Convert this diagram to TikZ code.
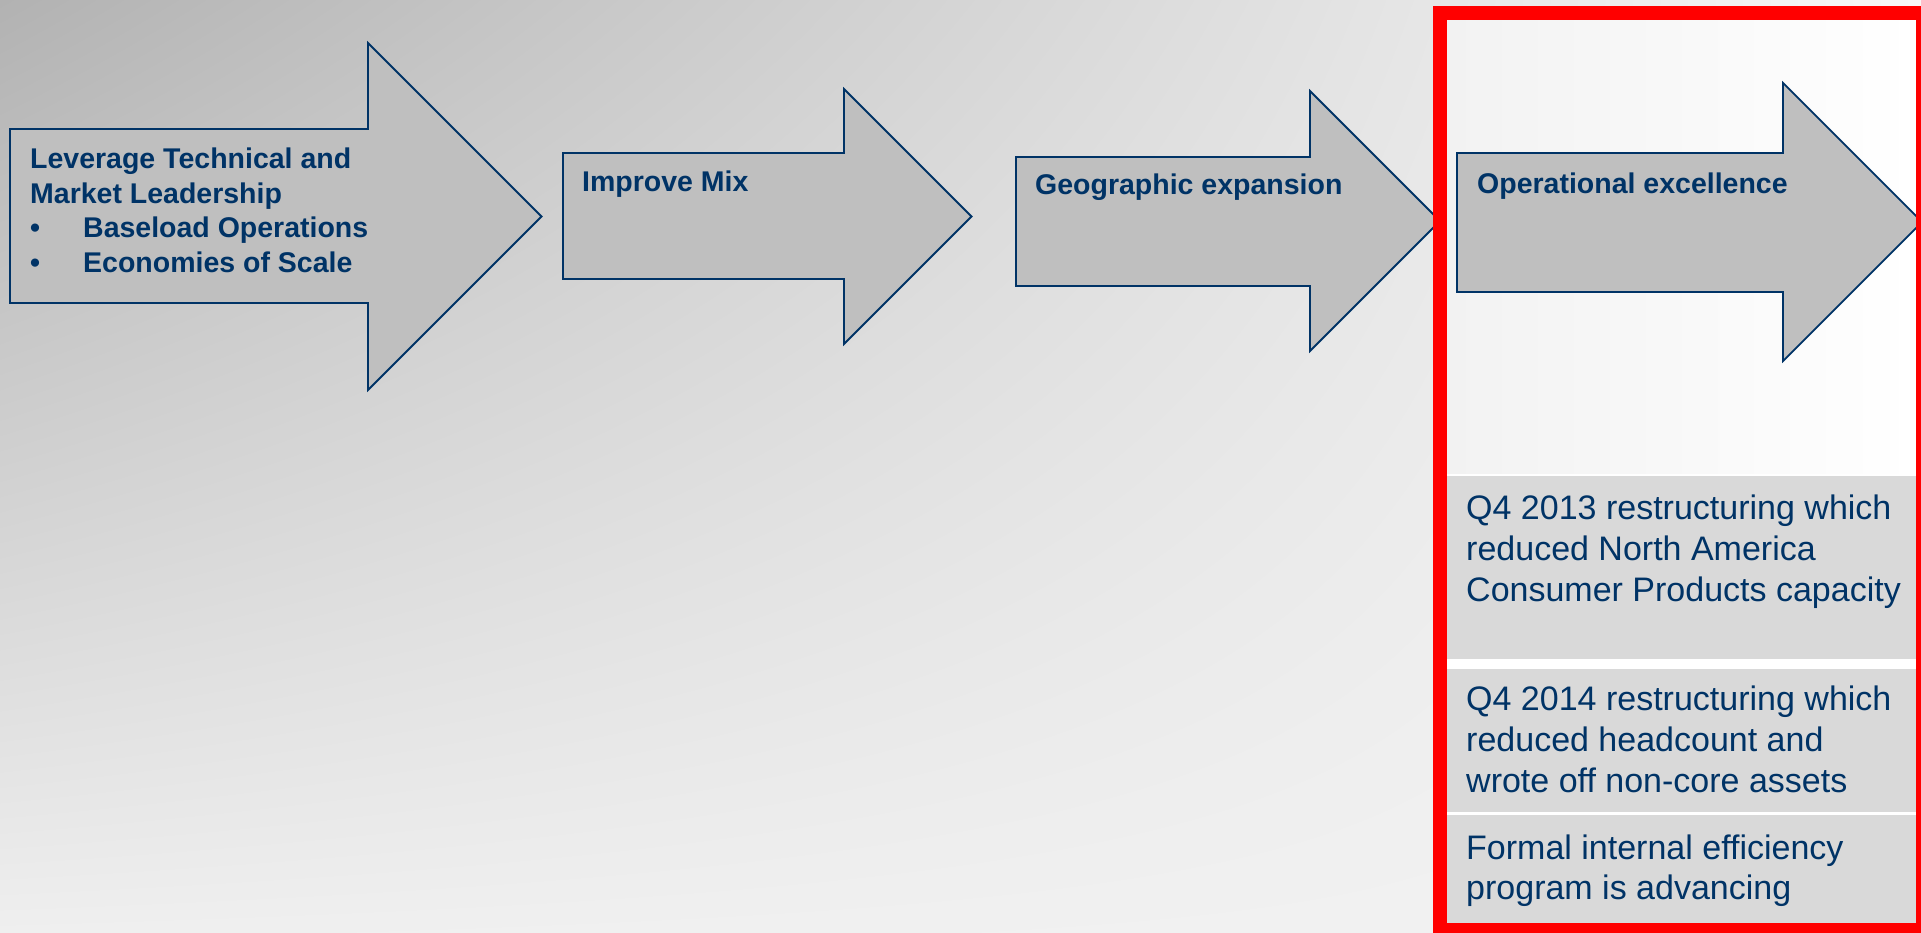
\documentclass[tikz,border=0pt]{standalone}
\usepackage{fontspec}
\setmainfont{Liberation Sans}
\usetikzlibrary{shadings}
\definecolor{txtblue}{RGB}{0,51,102}
\definecolor{arrowgray}{RGB}{191,191,191}
\definecolor{boxgray}{RGB}{217,217,217}
\definecolor{bgA}{RGB}{178,178,178}
\definecolor{bgB}{RGB}{248,248,248}
\definecolor{bgC}{RGB}{239,239,239}
\definecolor{bgD}{RGB}{242,242,242}
\definecolor{panelA}{RGB}{242,242,242}
\definecolor{redline}{RGB}{255,0,0}
\begin{document}
\begin{tikzpicture}[x=1pt,y=-1pt,
  arrowshape/.style={draw=txtblue, line width=1.8pt, fill=arrowgray, line join=miter},
  ttl/.style={anchor=base west, inner sep=0pt, text=txtblue, font=\fontsize{28.5}{34}\selectfont\bfseries},
  bodytxt/.style={anchor=base west, inner sep=0pt, text=txtblue, font=\fontsize{34}{41}\selectfont}]
\useasboundingbox (0,0) rectangle (1921,933);
\clip (0,0) rectangle (1921,933);
% background
\shade[upper left=bgA, upper right=bgB, lower left=bgC, lower right=bgD] (0,0) rectangle (1921,933);
% arrows 1-3
\draw[arrowshape] (10,129) -- (368,129) -- (368,43) -- (541.5,216.5) -- (368,390) -- (368,303) -- (10,303) -- cycle;
\draw[arrowshape] (563,153) -- (844,153) -- (844,89) -- (971.5,216.5) -- (844,344) -- (844,279) -- (563,279) -- cycle;
\draw[arrowshape] (1016,157) -- (1310,157) -- (1310,91) -- (1440,221) -- (1310,351) -- (1310,286) -- (1016,286) -- cycle;
% panel interior
\fill[white] (1447,20) rectangle (1916,923);
\shade[left color=panelA, right color=white] (1447,20) rectangle (1916,473);
% arrow 4
\draw[arrowshape] (1457,153) -- (1783,153) -- (1783,83) -- (1922,222) -- (1783,361) -- (1783,292) -- (1457,292) -- cycle;
% grey boxes
\fill[boxgray] (1447,476) rectangle (1916,659);
\fill[boxgray] (1447,669) rectangle (1916,812);
\fill[boxgray] (1447,815) rectangle (1916,923);
% arrow texts
\node[ttl] (t1a) at (30,169) {Leverage Technical and};
\node[ttl] (t1b) at (30,203.5) {Market Leadership};
\node[ttl] (bu1) at (30,238) {•};
\node[ttl] (t1c) at (83,238) {Baseload Operations};
\node[ttl] (bu2) at (30,272.5) {•};
\node[ttl] (t1d) at (83,272.5) {Economies of Scale};
\node[ttl] (t2) at (582,192) {Improve Mix};
\node[ttl] (t3) at (1035,195) {Geographic expansion};
\node[ttl] (t4) at (1477,193.5) {Operational excellence};
% box texts
\node[bodytxt] (p1a) at (1466,519) {Q4 2013 restructuring which};
\node[bodytxt] (p1b) at (1466,560) {reduced North America};
\node[bodytxt] (p1c) at (1466,601) {Consumer Products capacity};
\node[bodytxt] (p2a) at (1466,710) {Q4 2014 restructuring which};
\node[bodytxt] (p2b) at (1466,751) {reduced headcount and};
\node[bodytxt] (p2c) at (1466,792) {wrote off non-core assets};
\node[bodytxt] (p3a) at (1466,859) {Formal internal efficiency};
\node[bodytxt] (p3b) at (1466,899) {program is advancing};
% red frame
\draw[redline, line width=14pt] (1440,13) rectangle (1923,930);
\end{tikzpicture}
\end{document}
